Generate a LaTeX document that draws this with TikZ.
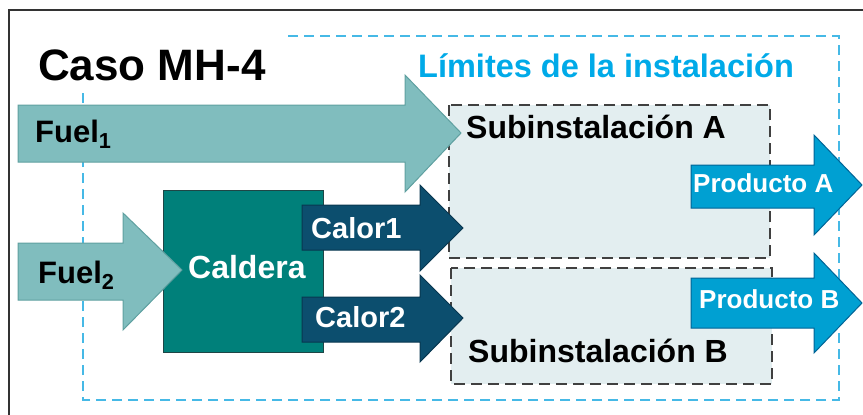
\documentclass[tikz,border=0pt]{standalone}
\usepackage{fontspec}
\setmainfont{Liberation Sans}
\usetikzlibrary{positioning}

\definecolor{limitblue}{RGB}{70,185,230}
\definecolor{limittext}{RGB}{0,170,232}
\definecolor{fuelfill}{RGB}{128,189,190}
\definecolor{fuelline}{RGB}{95,160,160}
\definecolor{boilerfill}{RGB}{0,128,122}
\definecolor{boilerline}{RGB}{30,70,70}
\definecolor{heatfill}{RGB}{12,78,110}
\definecolor{heatline}{RGB}{8,55,80}
\definecolor{prodfill}{RGB}{0,160,210}
\definecolor{prodline}{RGB}{0,100,150}
\definecolor{subfill}{RGB}{227,238,240}

\begin{document}
\begin{tikzpicture}[
    x=1pt, y=-1pt,
    frame/.style={draw=black!80, line width=2pt},
    limits/.style={draw=limitblue, line width=2.8pt, dash pattern=on 10pt off 6pt},
    subbox/.style={draw=black!75, fill=subfill, line width=2.8pt, dash pattern=on 11pt off 6pt},
    fuelarrow/.style={fill=fuelfill, draw=fuelline, line width=1pt},
    heatarrow/.style={fill=heatfill, draw=heatline, line width=1pt},
    prodarrow/.style={fill=prodfill, draw=prodline, line width=1pt},
    boiler/.style={fill=boilerfill, draw=boilerline, line width=1pt},
    label_text/.style={inner sep=0pt, anchor=base west, font=\fontsize{32}{32}\selectfont\bfseries},
    white_text/.style={label_text, text=white}
]

\useasboundingbox (0,0) rectangle (863,415);

% Outer frame
\draw[frame] (9,415) -- (9,10) -- (863,10);

% Installation limits
\draw[limits] (288,36) -- (839,36) -- (839,400) -- (83,400) -- (83,93);
\node[label_text, font=\fontsize{44}{44}\selectfont\bfseries] (caso) at (38,80) {Caso MH-4};
\node[label_text, text=limittext, font=\fontsize{32.5}{32.5}\selectfont\bfseries] (limites) at (418,77) {Límites de la instalación};

% Sub-installations
\draw[subbox] (449,105) rectangle (770,258);
\draw[subbox] (451,268) rectangle (772,384);
\node[label_text] (subA) at (466,138) {Subinstalación A};
\node[label_text] (subB) at (468,362) {Subinstalación B};

% Boiler
\node[boiler, minimum width=160, minimum height=162, inner sep=0pt] (caldera) at (243,271) {};
\node[white_text] (calderatxt) at (188,278) {Caldera};

% Fuel inputs
\draw[fuelarrow] (18,105) -- (405,105) -- (405,75) -- (461,133) -- (405,192) -- (405,162) -- (18,162) -- cycle;
\draw[fuelarrow] (18,243) -- (123,243) -- (123,213) -- (182,270) -- (123,330) -- (123,300) -- (18,300) -- cycle;
\node[label_text, font=\fontsize{31}{31}\selectfont\bfseries] (fuel1) at (35,142) {Fuel\textsubscript{1}};
\node[label_text, font=\fontsize{31}{31}\selectfont\bfseries] (fuel2) at (38,283) {Fuel\textsubscript{2}};

% Heat flows
\draw[heatarrow] (302,205) -- (420,205) -- (420,185) -- (463,228) -- (420,271) -- (420,250) -- (302,250) -- cycle;
\draw[heatarrow] (302,297) -- (420,297) -- (420,275) -- (463,318) -- (420,362) -- (420,342) -- (302,342) -- cycle;
\node[white_text, font=\fontsize{29}{29}\selectfont\bfseries] (calor1) at (311,238) {Calor1};
\node[white_text, font=\fontsize{29}{29}\selectfont\bfseries] (calor2) at (315,327) {Calor2};

% Products
\draw[prodarrow] (691,165) -- (814,165) -- (814,135) -- (862,185) -- (814,235) -- (814,208) -- (691,208) -- cycle;
\draw[prodarrow] (691,278) -- (814,278) -- (814,253) -- (862,303) -- (814,353) -- (814,328) -- (691,328) -- cycle;
\node[white_text, font=\fontsize{26}{26}\selectfont\bfseries] (prodA) at (693,192) {Producto A};
\node[white_text, font=\fontsize{26}{26}\selectfont\bfseries] (prodB) at (699,308) {Producto B};

\end{tikzpicture}
\end{document}
